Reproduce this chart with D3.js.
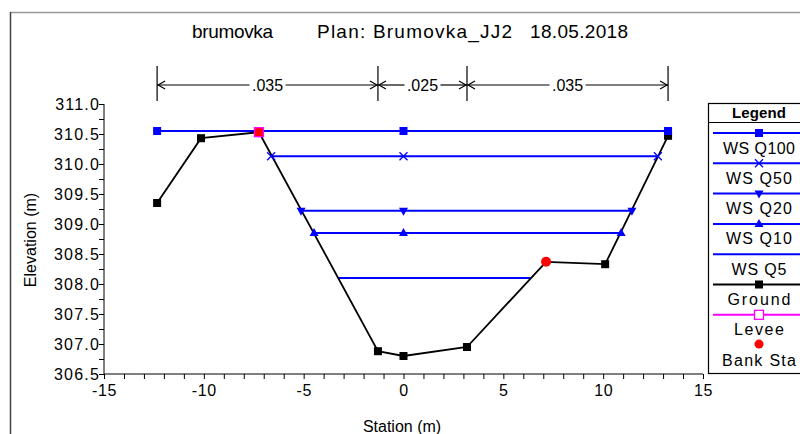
<!DOCTYPE html>
<html><head><meta charset="utf-8">
<script src="https://cdn.jsdelivr.net/npm/d3@7"></script>
<style>
body{margin:0;background:#fff;}
svg{display:block;font-family:"Liberation Sans",Arial,sans-serif;}
</style></head>
<body>
<svg id="c" width="800" height="434"></svg>
<script>
const titleParts = ["brumovka", "Plan: Brumovka_JJ2", "18.05.2018"];
const groundStation = [-12.34, -10.14, -7.24, -1.28, 0, 3.18, 7.14, 10.1, 13.25];
const groundElev = [309.35, 310.43, 310.53, 306.88, 306.8, 306.95, 308.37, 308.33, 310.47];
const wsNames = ["WS Q100", "WS Q50", "WS Q20", "WS Q10", "WS Q5"];
const wsElev = [310.55, 310.13, 309.22, 308.85, 308.10];
const wsLeft = [-12.34, -6.63, -5.13, -4.48, -3.28];
const wsRight = [13.25, 12.74, 11.44, 10.9, 6.38];
const wsMarkers = ["square", "cross", "tridown", "triup", "none"];
const bankStation = [-7.24, 7.14];
const bankElev = [310.53, 308.37];
const leveeStation = [-7.24];
const leveeElev = [310.53];
const nBreaks = [-12.34, -1.28, 3.18, 13.25];
const nValues = [".035", ".025", ".035"];
const xTicks = [-15, -10, -5, 0, 5, 10, 15];
const yTicks = [306.5, 307.0, 307.5, 308.0, 308.5, 309.0, 309.5, 310.0, 310.5, 311.0];
const legendNames = ["WS Q100", "WS Q50", "WS Q20", "WS Q10", "WS Q5", "Ground", "Levee", "Bank Sta"];

const svg = d3.select("#c");
const x = d3.scaleLinear().domain([-15, 15]).range([104, 703]);
const y = d3.scaleLinear().domain([306.5, 311]).range([374, 104]);
const BLUE = "#0000ff";

// outer frame
svg.append("line").attr("x1",10).attr("x2",800).attr("y1",12.5).attr("y2",12.5).attr("stroke","#999").attr("stroke-width",1.5);
svg.append("line").attr("x1",10.5).attr("x2",10.5).attr("y1",12).attr("y2",434).attr("stroke","#444").attr("stroke-width",1.5);

// title
const titleX = [192, 317, 530], titleW = [81, 195, 98];
titleParts.forEach((t,i) => {
  svg.append("text").attr("x",titleX[i]).attr("y",38).attr("font-size",19)
    .attr("textLength",titleW[i]).attr("lengthAdjust","spacing").text(t);
});

// axes
const xAxis = d3.axisBottom(x).tickValues(d3.range(-15, 15.01, 1)).tickSize(5).tickFormat(d => xTicks.includes(d) ? d : "");
const gx = svg.append("g").attr("transform","translate(0,374)").call(xAxis);
gx.select(".domain").attr("stroke","#000").attr("d","M104,0H703");
gx.selectAll("text").attr("font-size",16).attr("font-family","Liberation Sans, Arial").attr("fill","#000").attr("dy","0.85em").attr("letter-spacing",0.6);
gx.selectAll("line").attr("stroke","#000");

const yAxis = d3.axisLeft(y).tickValues(d3.range(306.5, 311.01, 0.25)).tickSize(5)
  .tickFormat(d => yTicks.some(t => Math.abs(t-d)<1e-6) ? d3.format(".1f")(d) : "");
const gy = svg.append("g").attr("transform","translate(104,0)").call(yAxis);
gy.select(".domain").attr("stroke","#000").attr("d","M0,104V374");
gy.selectAll("text").attr("font-size",16).attr("font-family","Liberation Sans, Arial").attr("fill","#000").attr("x",-4).attr("letter-spacing",1.2);
gy.selectAll("line").attr("stroke","#000");

svg.append("text").attr("x",402).attr("y",432).attr("text-anchor","middle").attr("font-size",16).text("Station (m)");
svg.append("text").attr("transform","translate(36,240) rotate(-90)").attr("text-anchor","middle").attr("font-size",16).text("Elevation (m)");

// Manning's n annotations
const ann = svg.append("g").attr("stroke","#000").attr("stroke-width",1.2);
nBreaks.forEach(b => {
  ann.append("line").attr("x1",x(b)).attr("x2",x(b)).attr("y1",66).attr("y2",101);
});
nValues.forEach((v,i) => {
  const x1 = x(nBreaks[i]), x2 = x(nBreaks[i+1]), xm = (x1+x2)/2;
  const tw = v.length*8 + 4;
  ann.append("line").attr("x1",x1).attr("x2",xm-tw/2).attr("y1",85).attr("y2",85);
  ann.append("line").attr("x1",xm+tw/2).attr("x2",x2).attr("y1",85).attr("y2",85);
  ann.append("path").attr("fill","none").attr("d",`M${x1+8},81L${x1+1},85L${x1+8},89`);
  ann.append("path").attr("fill","none").attr("d",`M${x2-8},81L${x2-1},85L${x2-8},89`);
  svg.append("text").attr("x",xm).attr("y",91).attr("text-anchor","middle").attr("font-size",16).text(v);
});

function marker(g, kind, cx, cy, color) {
  if (kind === "square") {
    g.append("rect").attr("x",cx-4).attr("y",cy-4).attr("width",8).attr("height",8).attr("fill",color);
  } else if (kind === "cross") {
    g.append("path").attr("d",`M${cx-4},${cy-4}L${cx+4},${cy+4}M${cx-4},${cy+4}L${cx+4},${cy-4}`).attr("stroke",color).attr("stroke-width",1.3);
  } else if (kind === "tridown") {
    g.append("path").attr("d",`M${cx-4.5},${cy-3}L${cx+4.5},${cy-3}L${cx},${cy+5}Z`).attr("fill",color);
  } else if (kind === "triup") {
    g.append("path").attr("d",`M${cx-4.5},${cy+3}L${cx+4.5},${cy+3}L${cx},${cy-5}Z`).attr("fill",color);
  }
}

const plot = svg.append("g");
wsNames.forEach((n,i) => {
  plot.append("line").attr("x1",x(wsLeft[i])).attr("x2",x(wsRight[i])).attr("y1",y(wsElev[i])).attr("y2",y(wsElev[i]))
    .attr("stroke",BLUE).attr("stroke-width",2);
});
const gdata = groundStation.map((s,i)=>[s,groundElev[i]]);
plot.append("path").datum(gdata).attr("fill","none").attr("stroke","#000").attr("stroke-width",1.8)
  .attr("d", d3.line().x(d=>x(d[0])).y(d=>y(d[1])));
gdata.filter(d => !bankStation.includes(d[0])).forEach(d => marker(plot,"square",x(d[0]),y(d[1]),"#000"));
wsNames.forEach((n,i) => {
  [wsLeft[i], 0, wsRight[i]].forEach(s => marker(plot, wsMarkers[i], x(s), y(wsElev[i]), BLUE));
});
bankStation.forEach((s,i) => plot.append("circle").attr("cx",x(s)).attr("cy",y(bankElev[i])).attr("r",5).attr("fill","#ff0000"));
leveeStation.forEach((s,i) => {
  plot.append("rect").attr("x",x(s)-4).attr("y",y(leveeElev[i])-4).attr("width",8).attr("height",8).attr("fill","#ff0000");
  plot.append("rect").attr("x",x(s)-4.5).attr("y",y(leveeElev[i])-4.5).attr("width",9).attr("height",9)
    .attr("fill","none").attr("stroke","#ff00ff").attr("stroke-width",1.3);
});

// legend
const lg = svg.append("g");
lg.append("rect").attr("x",708.5).attr("y",103.5).attr("width",100).attr("height",270).attr("fill","#fff").attr("stroke","#000").attr("stroke-width",1.2);
lg.append("text").attr("x",732).attr("y",118).attr("font-size",15).attr("font-weight","bold").attr("textLength",54).attr("lengthAdjust","spacing").text("Legend");
lg.append("line").attr("x1",708).attr("x2",800).attr("y1",122.5).attr("y2",122.5).attr("stroke","#000");
const legColors = [BLUE, BLUE, BLUE, BLUE, BLUE, "#000", "#ff00ff", "#ff0000"];
const legMarks = wsMarkers.concat(["square", "levee", "circle"]);
const legW = [72, 66, 66, 66, 55, 63, 50, 74];
legendNames.forEach((name,i) => {
  const ly = 133 + i*30.3;
  const color = legColors[i], mk = legMarks[i];
  if (mk !== "circle") lg.append("line").attr("x1",713).attr("x2",800).attr("y1",ly).attr("y2",ly).attr("stroke",color).attr("stroke-width",color==="#000"?1.8:2);
  if (mk === "levee") lg.append("rect").attr("x",754.5).attr("y",ly-4.5).attr("width",9).attr("height",9).attr("fill","#fff").attr("stroke","#ff00ff").attr("stroke-width",1.3);
  else if (mk === "circle") lg.append("circle").attr("cx",759).attr("cy",ly-1).attr("r",4.5).attr("fill","#ff0000");
  else marker(lg, mk, 759, ly, color);
  lg.append("text").attr("x",759 - legW[i]/2).attr("y",ly+20.5).attr("font-size",16)
    .attr("textLength",legW[i]).attr("lengthAdjust","spacing").text(name);
});
</script>
</body></html>
